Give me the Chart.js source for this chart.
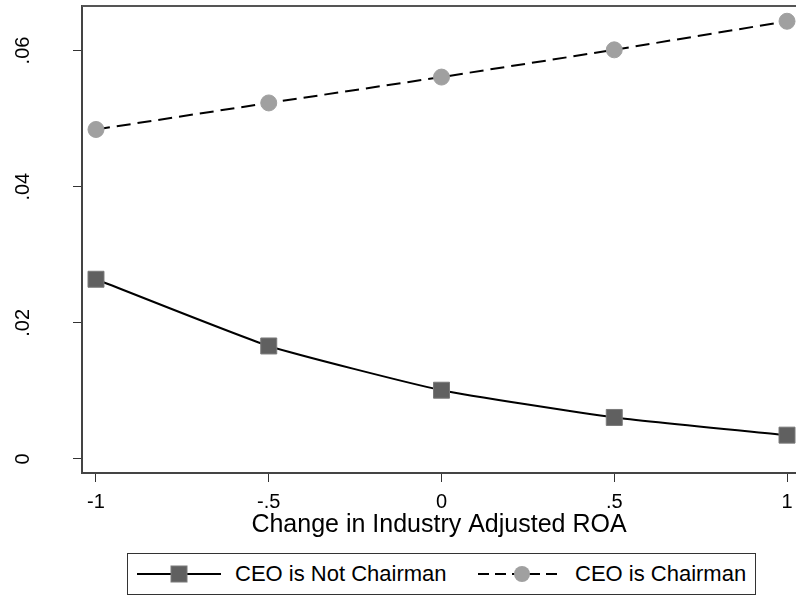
<!DOCTYPE html>
<html>
<head>
<meta charset="utf-8">
<script src="https://cdn.jsdelivr.net/npm/chart.js@4"></script>
<style>
  body { margin: 0; background: #fff; font-family: 'Liberation Sans', Arial, sans-serif; }
  #wrap { position: relative; width: 796px; height: 596px; }
  #legend { position: absolute; left: 127px; top: 553px; width: 627px; height: 40px;
            border: 1px solid #333; background: #fff; }
  #legend svg { position: absolute; top: 0; }
  #legend span { position: absolute; top: 7px; font-size: 22px; color: #000; white-space: nowrap; }
</style>
</head>
<body>
<div id="wrap">
  <canvas id="myChart" width="796" height="596"></canvas>
  <div id="legend">
    <svg style="left:9px" width="86" height="40">
      <line x1="0" y1="20" x2="84" y2="20" stroke="#000" stroke-width="2"/>
      <rect x="34" y="12" width="16" height="16" fill="#606060" stroke="#7a7a7a" stroke-width="1"/>
    </svg>
    <span style="left:107px">CEO is Not Chairman</span>
    <svg style="left:350px" width="86" height="40">
      <line x1="0" y1="20" x2="84" y2="20" stroke="#000" stroke-width="2" stroke-dasharray="11,6"/>
      <circle cx="44" cy="20" r="8" fill="#a0a0a0"/>
    </svg>
    <span style="left:447px">CEO is Chairman</span>
  </div>
</div>
<script>
document.addEventListener('DOMContentLoaded', function () {

    // data
    var xValues = [-1, -0.5, 0, 0.5, 1];
    var notChairman = [0.0264, 0.0166, 0.0101, 0.0061, 0.0035];
    var chairman = [0.0484, 0.0523, 0.0561, 0.0601, 0.0643];
    var xTicks = [-1, -0.5, 0, 0.5, 1];
    var yTicks = [0, 0.02, 0.04, 0.06];

    function fmt(v) {
        if (v == 0) return '0';
        var s = String(Math.round(v * 100) / 100);
        return s.replace('0.', '.');
    }

    function pts(ys) {
        return xValues.map(function (x, i) { return { x: x, y: ys[i] }; });
    }

    // top border of the plot region
    var frame = {
        id: 'frame',
        afterDraw: function (c) {
            var ctx = c.ctx, a = c.chartArea;
            ctx.save();
            ctx.strokeStyle = '#555';
            ctx.lineWidth = 2;
            ctx.beginPath();
            ctx.moveTo(a.left, a.top);
            ctx.lineTo(a.right, a.top);
            ctx.stroke();
            ctx.restore();
        }
    };

    var ctx = document.getElementById('myChart').getContext('2d');
    var chart = new Chart(ctx, {
        type: 'line',
        data: {
            datasets: [{
                label: 'CEO is Not Chairman',
                data: pts(notChairman),
                borderColor: '#000',
                borderWidth: 2,
                tension: 0.15,
                pointStyle: 'rect',
                pointRadius: 11.3,
                pointBackgroundColor: '#606060',
                pointBorderColor: '#7a7a7a',
                pointBorderWidth: 1
            }, {
                label: 'CEO is Chairman',
                data: pts(chairman),
                borderColor: '#000',
                borderWidth: 2,
                borderDash: [14, 7],
                tension: 0,
                pointStyle: 'circle',
                pointRadius: 8,
                pointBackgroundColor: '#a0a0a0',
                pointBorderColor: '#a0a0a0',
                pointBorderWidth: 1
            }]
        },
        options: {
            responsive: false,
            animation: false,
            clip: false,
            layout: { autoPadding: false, padding: { left: 0, top: 6, right: 0, bottom: 51 } },
            plugins: { legend: { display: false }, tooltip: { enabled: false } },
            scales: {
                x: {
                    type: 'linear',
                    min: -1.0405,
                    max: 1.026,
                    afterBuildTicks: function (s) { s.ticks = xTicks.map(function (v) { return { value: v }; }); },
                    afterFit: function (s) { s.height = 72; s.paddingLeft = 0; s.paddingRight = 0; },
                    grid: { drawOnChartArea: false, drawTicks: true, tickLength: 9, color: '#333', lineWidth: 1 },
                    border: { color: '#444', width: 2 },
                    ticks: {
                        color: '#000',
                        font: { family: 'Liberation Sans', size: 20 },
                        padding: 8,
                        maxRotation: 0,
                        autoSkip: false,
                        callback: function (v) { return fmt(v); }
                    },
                    title: {
                        display: true,
                        text: 'Change in Industry Adjusted ROA',
                        color: '#000',
                        font: { family: 'Liberation Sans', size: 25 },
                        padding: { top: 0, bottom: 5 }
                    }
                },
                y: {
                    type: 'linear',
                    min: -0.00206,
                    max: 0.06654,
                    afterBuildTicks: function (s) { s.ticks = yTicks.map(function (v) { return { value: v }; }); },
                    afterFit: function (s) { s.width = 82; s.paddingTop = 0; s.paddingBottom = 0; },
                    grid: { drawOnChartArea: false, drawTicks: true, tickLength: 9, color: '#333', lineWidth: 1 },
                    border: { color: '#444', width: 2 },
                    ticks: {
                        color: '#000',
                        font: { family: 'Liberation Sans', size: 20 },
                        minRotation: 90,
                        maxRotation: 90,
                        crossAlign: 'center',
                        padding: 36,
                        autoSkip: false,
                        callback: function (v) { return fmt(v); }
                    }
                }
            }
        },
        plugins: [frame]
    });

});
</script>
</body>
</html>
